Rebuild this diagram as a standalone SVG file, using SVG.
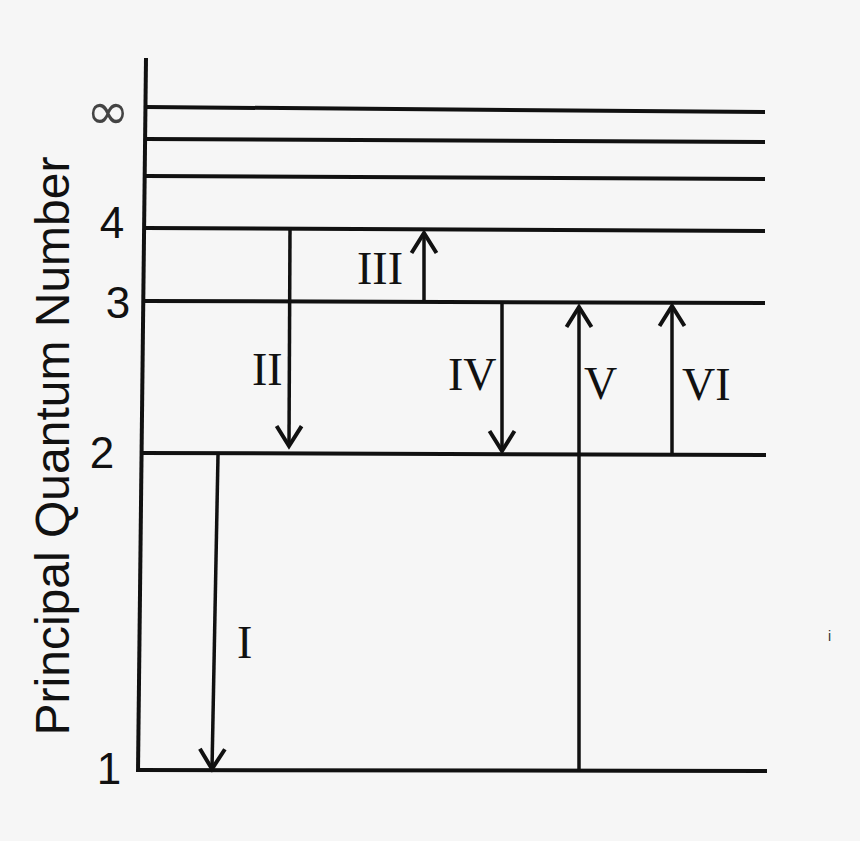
<svg xmlns="http://www.w3.org/2000/svg" width="860" height="841" viewBox="0 0 860 841">
<style>
.lvl{stroke:#111;stroke-width:4;fill:none;stroke-linecap:butt}
.arr{stroke:#111;stroke-width:3.5;fill:none;marker-end:url(#chev)}
.num{font-family:"Liberation Sans",Arial,sans-serif;font-size:44px;fill:#111;text-anchor:middle}
.rom{font-family:"Liberation Serif","Times New Roman",serif;font-size:46px;fill:#111}
.title{font-family:"Liberation Sans",Arial,sans-serif;font-size:48px;fill:#111;text-anchor:middle}
</style>
<defs>
<marker id="chev" markerUnits="userSpaceOnUse" viewBox="-24 -16 28 32" refX="0" refY="0" markerWidth="28" markerHeight="32" orient="auto" overflow="visible">
<path d="M-20,-12.5 L0,0 L-20,12.5" fill="none" stroke="#111" stroke-width="4" stroke-linejoin="miter"/>
</marker>
</defs>
<rect width="860" height="841" fill="#f6f6f6"/>
<g id="axis">
<line class="lvl" x1="146" y1="58" x2="138" y2="772"/>
<text class="title" transform="translate(69,446) rotate(-90)">Principal Quantum Number</text>
</g>
<g id="level-inf">
<line class="lvl" x1="146" y1="107" x2="765" y2="112"/>
<text x="108" y="129" font-family="DejaVu Sans,sans-serif" font-size="52" fill="#444" text-anchor="middle">∞</text>
</g>
<g id="level-6">
<line class="lvl" x1="146" y1="139" x2="765" y2="142"/>
</g>
<g id="level-5">
<line class="lvl" x1="146" y1="176" x2="765" y2="179"/>
</g>
<g id="level-4">
<line class="lvl" x1="146" y1="228" x2="765" y2="231"/>
<text class="num" x="112" y="238">4</text>
</g>
<g id="level-3">
<line class="lvl" x1="145" y1="301" x2="765" y2="303"/>
<text class="num" x="118" y="318">3</text>
</g>
<g id="level-2">
<line class="lvl" x1="142" y1="453" x2="766" y2="455"/>
<text class="num" x="102" y="468">2</text>
</g>
<g id="level-1">
<line class="lvl" x1="138" y1="770" x2="767" y2="771"/>
<text class="num" x="109" y="784">1</text>
</g>
<g id="connectors">
<line class="arr" x1="218" y1="455" x2="212" y2="769"/>
<line class="arr" x1="290" y1="229" x2="289" y2="446"/>
<line class="arr" x1="424" y1="302" x2="424" y2="233"/>
<line class="arr" x1="502" y1="303" x2="502" y2="451"/>
<line class="arr" x1="579" y1="771" x2="579" y2="307"/>
<line class="arr" x1="672" y1="455" x2="672" y2="306"/>
</g>
<g id="labels">
<text class="rom" x="237" y="658">I</text>
<text class="rom" x="252" y="385">II</text>
<text class="rom" x="357" y="284">III</text>
<text class="rom" x="448" y="390">IV</text>
<text class="rom" x="584" y="399">V</text>
<text class="rom" x="682" y="400">VI</text>
</g>
<text x="828" y="641" font-family="Liberation Sans,sans-serif" font-size="14" fill="#333">i</text>
</svg>
